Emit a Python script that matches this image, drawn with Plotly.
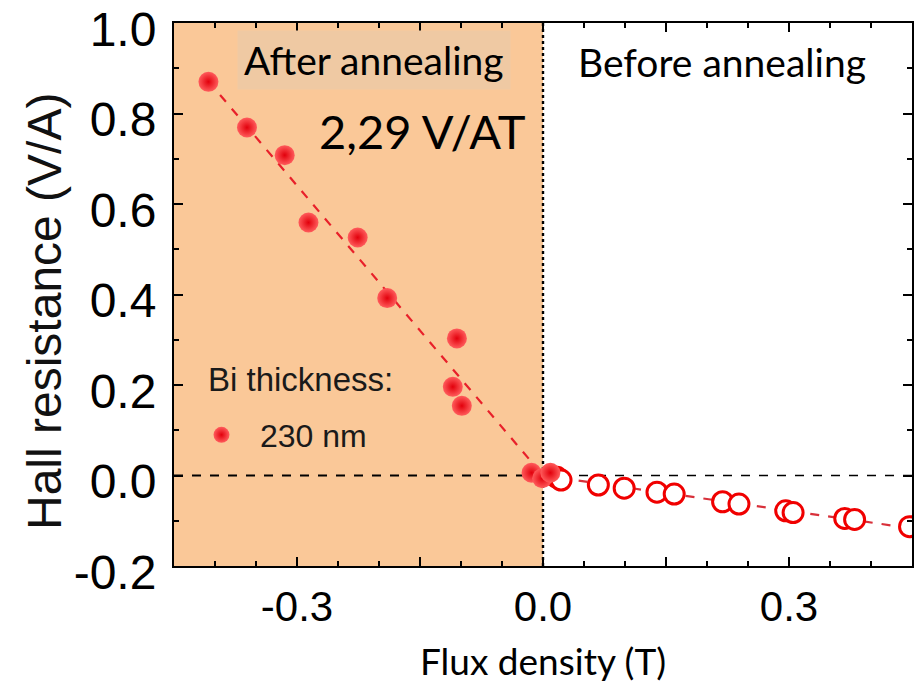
import numpy as np
import plotly.graph_objects as go

# ---- data ----
after_x = [-0.408, -0.361, -0.315, -0.286, -0.226, -0.190, -0.105, -0.110, -0.099, -0.014, -0.001, 0.009]
after_y = [0.870, 0.769, 0.708, 0.559, 0.526, 0.392, 0.303, 0.196, 0.154, 0.006, -0.006, 0.006]
before_x = [0.017, 0.022, 0.0675, 0.099, 0.139, 0.160, 0.219, 0.239, 0.296, 0.305, 0.368, 0.380, 0.447]
before_y = [-0.004, -0.010, -0.021, -0.028, -0.037, -0.041, -0.058, -0.063, -0.078, -0.082, -0.095, -0.097, -0.113]

x_tickvals = [-0.3, -0.15, 0.0, 0.15, 0.3]
x_ticktext = ["-0.3", "", "0.0", "", "0.3"]
y_tickvals = [-0.2, 0.0, 0.2, 0.4, 0.6, 0.8, 1.0]
y_ticktext = ["-0.2", "0.0", "0.2", "0.4", "0.6", "0.8", "1.0"]

X_RANGE = [-0.45, 0.45]
Y_RANGE = [-0.2, 1.0]

# ---- linear fits through the origin ----
ax_, ay_ = np.array(after_x), np.array(after_y)
bx_, by_ = np.array(before_x), np.array(before_y)
slope_a = float(np.sum(ax_ * ay_) / np.sum(ax_ ** 2))
slope_b = float(np.sum(bx_ * by_) / np.sum(bx_ ** 2))
fit_a_x = [float(ax_.min()), 0.0]
fit_a_y = [slope_a * v for v in fit_a_x]
fit_b_x = [0.0, X_RANGE[1]]
fit_b_y = [slope_b * v for v in fit_b_x]

# plot-area geometry in pixels (for annotation placement)
W, H = 922, 687
L, R, T, B = 174, 10, 23, 121
PW, PH = W - L - R, H - T - B


def px(x):
    return (x - L) / PW


def py(y):
    return 1 - (y - T) / PH


fig = go.Figure()

fig.add_trace(go.Scatter(x=fit_a_x, y=fit_a_y, mode="lines",
                         line=dict(color="#e8202a", width=2.2, dash="dash"),
                         showlegend=False, hoverinfo="skip"))
fig.add_trace(go.Scatter(x=fit_b_x, y=fit_b_y, mode="lines",
                         line=dict(color="#d8303a", width=2.2, dash="dash"),
                         showlegend=False, hoverinfo="skip"))

fig.add_trace(go.Scatter(x=before_x, y=before_y, mode="markers",
                         marker=dict(symbol="circle", size=20, color="white",
                                     line=dict(color="#f00000", width=3)),
                         showlegend=False))
fig.add_trace(go.Scatter(x=after_x, y=after_y, mode="markers", name="230 nm",
                         marker=dict(symbol="circle", size=20, color="#ff5c5c",
                                     gradient=dict(type="radial", color="#e2000c"),
                                     line=dict(width=0))))

shapes = [
    dict(type="rect", xref="x", yref="y", x0=X_RANGE[0], x1=0, y0=Y_RANGE[0], y1=Y_RANGE[1],
         fillcolor="#fac898", line=dict(width=0), layer="below"),
    dict(type="line", xref="x", yref="y", x0=X_RANGE[0], x1=0, y0=0, y1=0,
         line=dict(color="black", width=2.2, dash="dash"), layer="below"),
    dict(type="line", xref="x", yref="y", x0=0, x1=X_RANGE[1], y0=0, y1=0,
         line=dict(color="black", width=1.3, dash="dash"), layer="below"),
    dict(type="line", xref="x", yref="y", x0=0, x1=0, y0=Y_RANGE[0], y1=Y_RANGE[1],
         line=dict(color="black", width=2.4, dash="dot"), layer="below"),
]

calibri = "Lato, 'Open Sans', sans-serif"
arial = "'Liberation Sans', Arial, sans-serif"

annotations = [
    dict(text="After annealing", x=px(374), y=py(60), xref="paper", yref="paper",
         xanchor="center", yanchor="middle", showarrow=False,
         font=dict(family=calibri, size=39, color="black"),
         bgcolor="#efc9a3", borderpad=6),
    dict(text="2,29 V/AT", x=px(422), y=py(131), xref="paper", yref="paper",
         xanchor="center", yanchor="middle", showarrow=False,
         font=dict(family=calibri, size=47, color="black")),
    dict(text="Before annealing", x=px(722), y=py(62), xref="paper", yref="paper",
         xanchor="center", yanchor="middle", showarrow=False,
         font=dict(family=calibri, size=39, color="black")),
    dict(text="Flux density (T)", x=px(543), y=py(660), xref="paper", yref="paper",
         xanchor="center", yanchor="middle", showarrow=False,
         font=dict(family=calibri, size=37, color="black")),
    dict(text="Hall resistance (V/A)", x=px(44), y=py(312), xref="paper", yref="paper",
         xanchor="center", yanchor="middle", showarrow=False, textangle=-90,
         font=dict(family=arial, size=48, color="#111111")),
    dict(text="Bi thickness:", x=px(206), y=py(379), xref="paper", yref="paper",
         xanchor="left", yanchor="middle", showarrow=False,
         font=dict(family=arial, size=33, color="#1a1a1a")),
]

axis_common = dict(showgrid=False, zeroline=False, showline=True, linecolor="black",
                   linewidth=2, mirror="ticks", ticks="inside", tickcolor="black",
                   tickwidth=2, ticklabeloverflow="allow", automargin=False)

fig.update_layout(
    width=W, height=H,
    margin=dict(l=L, r=R, t=T, b=B),
    paper_bgcolor="white", plot_bgcolor="white",
    shapes=shapes, annotations=annotations,
    xaxis=dict(range=X_RANGE, tickvals=x_tickvals, ticktext=x_ticktext, ticklen=9,
               tickfont=dict(family=arial, size=42, color="black"),
               ticklabelstandoff=3,
               minor=dict(dtick=0.05, tick0=0, ticks="inside", ticklen=5,
                          tickcolor="black", tickwidth=2),
               **axis_common),
    yaxis=dict(range=Y_RANGE, tickvals=y_tickvals, ticktext=y_ticktext, ticklen=9,
               tickfont=dict(family=arial, size=48, color="black"),
               ticklabelstandoff=6, ticklabelshift=6,
               minor=dict(dtick=0.1, tick0=0, ticks="inside", ticklen=5,
                          tickcolor="black", tickwidth=2),
               **axis_common),
    legend=dict(x=px(183), y=py(435), xanchor="left", yanchor="middle",
                bgcolor="rgba(0,0,0,0)", itemsizing="trace", itemwidth=67,
                font=dict(family=arial, size=32, color="#1a1a1a")),
)

fig.write_html("out.html", config={"displayModeBar": False},
               post_script="document.body.style.margin='0';document.body.style.padding='0';")
